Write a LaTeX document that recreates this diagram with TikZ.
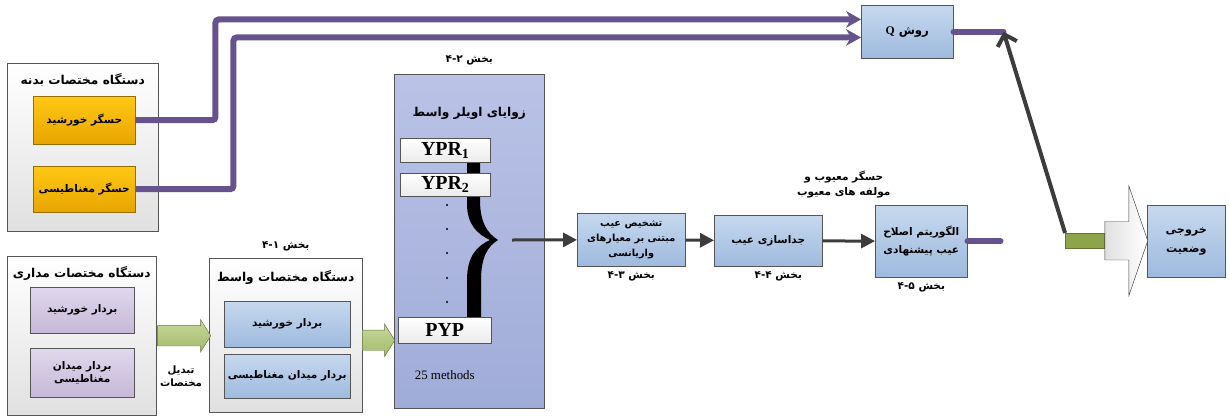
\documentclass[tikz,border=0pt]{standalone}
\usepackage{fontspec}
\usepackage{xcolor}
\usepackage{tikz}
\usetikzlibrary{arrows.meta,shapes.arrows,positioning}
\setmainfont{Liberation Serif}
\newfontfamily\fafont[Script=Arabic]{DejaVu Sans}
\TeXXeTstate=1
\newcommand{\fa}[1]{{\fafont\bfseries\beginR #1\endR}}
\newcommand{\secno}[1]{\fa{بخش #1}}

\definecolor{lnpurple}{RGB}{102,82,140}
\definecolor{ylwtop}{RGB}{255,200,20}
\definecolor{ylwbot}{RGB}{232,165,0}
\definecolor{ylwedge}{RGB}{150,110,0}
\definecolor{lilactop}{RGB}{224,216,236}
\definecolor{lilacbot}{RGB}{198,184,216}
\definecolor{bluetop}{RGB}{198,216,238}
\definecolor{bluebot}{RGB}{158,186,222}
\definecolor{eulertop}{RGB}{186,194,230}
\definecolor{eulerbot}{RGB}{160,172,216}
\definecolor{grntop}{RGB}{200,216,156}
\definecolor{grnbot}{RGB}{162,186,104}
\definecolor{grnbar}{RGB}{140,165,75}
\definecolor{darkln}{RGB}{60,60,60}
\definecolor{edge}{RGB}{85,85,85}

\tikzset{
  fa/.style={font=\fontsize{9}{13}\selectfont, align=center, inner sep=1pt},
  fatitle/.style={font=\fontsize{10.4}{12}\selectfont, align=center, inner sep=0pt},
  frame/.style={draw=edge, top color=white, bottom color=black!12},
  sensor/.style={draw=ylwedge, top color=ylwtop, bottom color=ylwbot, minimum width=3.06cm},
  lilacbox/.style={draw=edge, top color=lilactop, bottom color=lilacbot, minimum width=3.12cm},
  bluebox/.style={draw=edge, top color=bluetop, bottom color=bluebot},
  yprbox/.style={draw=edge, top color=white, bottom color=black!8, font=\fontsize{17}{17}\selectfont\bfseries},
  fatarrow/.style={single arrow, draw=grnbot!60!black, top color=grntop, bottom color=grnbot, inner xsep=0pt, inner ysep=0.3cm, minimum width=0.96cm, single arrow head extend=0.18cm, single arrow tip angle=116},
  purpleline/.style={draw=lnpurple, line width=0.18cm, rounded corners=0.1cm},
  grayarrow/.style={draw=darkln, line width=0.09cm, -{Triangle[length=0.42cm,width=0.42cm]}}
}

\begin{document}
\begin{tikzpicture}[x=0.03cm,y=-0.03cm]

\useasboundingbox (0,0) rectangle (1229,417);
\coordinate(O1) at (0,0);

% body frame with the two sensors
\node[below right=1.89cm and 0.21cm of O1, frame, minimum width=4.53cm, minimum height=5.04cm](body) {};
\node[below=0.32cm of body.north, fatitle](bodyt) {\fa{دستگاه مختصات بدنه}};
\node[below right=2.88cm and 0.99cm of O1, sensor, minimum height=1.44cm, fa](sun) {\fa{حسگر خورشید}};
\node[below right=4.98cm and 0.99cm of O1, sensor, minimum height=1.38cm, fa](mag) {\fa{حسگر مغناطیسی}};

% orbital frame
\node[below right=7.68cm and 0.21cm of O1, frame, minimum width=4.47cm, minimum height=4.77cm](orb) {};
\node[below=0.3cm of orb.north, fatitle](orbt) {\fa{دستگاه مختصات مداری}};
\node[below right=8.61cm and 0.9cm of O1, lilacbox, minimum height=1.38cm, fa](orbsun) {\fa{بردار خورشید}};
\node[below right=10.44cm and 0.9cm of O1, lilacbox, minimum height=1.47cm, fa, font=\fontsize{9}{11.5}\selectfont](orbmag) {\fa{بردار میدان}\\\fa{مغناطیسی}};

% intermediate frame
\node[below right=7.74cm and 6.27cm of O1, frame, minimum width=4.59cm, minimum height=4.62cm](mid) {};
\node[below=0.36cm of mid.north, fatitle](midt) {\fa{دستگاه مختصات واسط}};
\node[above=0.18cm of mid.north, fa](midl) {\secno{۴-۱}};
\node[below right=9.03cm and 6.72cm of O1, bluebox, minimum width=3.78cm, minimum height=1.38cm, fa](midsun) {\fa{بردار خورشید}};
\node[below right=10.62cm and 6.72cm of O1, bluebox, minimum width=3.78cm, minimum height=1.32cm, fa](midmag) {\fa{بردار میدان مغناطیسی}};

\node[right=0.03cm of orb, fatarrow, minimum height=1.59cm](conv) {};
\node[below=0.55cm of conv, fa, font=\fontsize{8.7}{11}\selectfont](convl) {\fa{تبدیل}\\\fa{مختصات}};

% Euler angles
\node[below right=2.22cm and 11.82cm of O1, draw=edge, top color=eulertop, bottom color=eulerbot, minimum width=4.5cm, minimum height=10.02cm](euler) {};
\node[below=1.0cm of euler.north, fatitle](eulert) {\fa{زوایای اویلر واسط}};
\node[above=0.22cm of euler.north, fa](eulerl) {\secno{۴-۲}};
\node[right=0cm of mid, yshift=-0.15cm, fatarrow, minimum height=0.96cm](toeuler) {};

\fill (467,160) -- (480,160) -- (480,200) .. controls (480,222) and (487,233) .. (498,240) .. controls (488,246) and (481,257) .. (481,280) -- (481,318) -- (467,318) -- (467,280) .. controls (467,256) and (477,246) .. (490,240) .. controls (477,234) and (467,224) .. (467,204) -- cycle;
\foreach \y in {205,229,253,278,302}
  \fill (447,\y) circle (1.1);

\node[below right=4.14cm and 12cm of O1, yprbox, minimum width=2.7cm, minimum height=0.72cm, inner sep=0pt](ypr1) {YPR$_{\mathbf{1}}$};
\node[below right=5.19cm and 12cm of O1, yprbox, minimum width=2.7cm, minimum height=0.69cm, inner sep=0pt](ypr2) {YPR$_{\mathbf{2}}$};
\node[below right=9.51cm and 11.94cm of O1, yprbox, minimum width=2.79cm, minimum height=0.78cm, inner sep=0pt](pyp) {PYP};
\node[below=0.7cm of pyp, font=\fontsize{11}{13}\selectfont](meth) {25 methods};
\coordinate (eout) at (512,240);

% fault chain
\node[below right=6.39cm and 17.31cm of O1, bluebox, minimum width=3.24cm, minimum height=1.59cm, fa, font=\fontsize{8.3}{13}\selectfont](fault) {\fa{تشخیص عیب}\\\fa{مبتنی بر معیارهای}\\\fa{واریانسی}};
\node[below=0.12cm of fault, fa](faultl) {\secno{۴-۳}};
\node[below right=6.45cm and 21.42cm of O1, bluebox, minimum width=3.24cm, minimum height=1.53cm, fa](iso) {\fa{جداسازی عیب}};
\node[below=0.12cm of iso, xshift=0.3cm, fa](isol) {\secno{۴-۴}};
\node[below right=6.15cm and 26.25cm of O1, bluebox, minimum width=2.76cm, minimum height=2.16cm, fa, font=\fontsize{9}{15}\selectfont](corr) {\fa{الگوریتم اصلاح}\\\fa{عیب پیشنهادی}};
\node[below=0.12cm of corr, fa](corrl) {\secno{۴-۵}};
\coordinate[right=0.99cm of corr.east] (corrout);

% Q method and output
\node[below right=0.15cm and 25.83cm of O1, bluebox, minimum width=2.76cm, minimum height=1.59cm, fa, font=\fontsize{10}{12}\selectfont](qm) {\fa{روش {\rmfamily Q}}};
\coordinate[right=1.5cm of qm.east] (qout);
\node[below right=6.99cm and 31.95cm of O1, draw=grnbar!70!black, fill=grnbar, minimum width=1.17cm, minimum height=0.45cm, inner sep=0pt](gbar) {};
\node[below right=6.15cm and 34.41cm of O1, bluebox, minimum width=2.34cm, minimum height=2.16cm, fa, font=\fontsize{9.5}{16}\selectfont](out) {\fa{خروجی}\\\fa{وضعیت}};
\node[right=0cm of gbar, single arrow, draw=darkln, thin, left color=black!12, right color=white, inner xsep=0pt, inner ysep=0.57cm, minimum height=1.29cm, minimum width=3.27cm, single arrow head extend=1.065cm, single arrow tip angle=142](outarrow) {};

\draw[purpleline, -{Stealth[length=0.45cm,width=0.5cm]}] (sun.east) -- ++(2.4cm,0) |- ([yshift=0.37cm]qm.west);
\draw[purpleline, -{Stealth[length=0.45cm,width=0.5cm]}] (mag.east) -- ++(2.94cm,0) |- ([yshift=-0.17cm]qm.west);
\draw[purpleline, line cap=round] (qm.east) -- (qout);
\draw[purpleline, line cap=round] (corr.east) -- (corrout);
\draw[draw=darkln, line width=0.12cm, -{Straight Barb[length=0.3cm,width=0.6cm]}] (gbar.north west) -- (qout);

\draw[grayarrow] (eout) -- (fault);
\draw[grayarrow] (fault) -- (iso);
\draw[grayarrow] (iso) -- node[above=1.2cm, xshift=-0.15cm, fa] {\fa{حسگر معیوب و}\\\fa{مولفه های معیوب}} (corr);
\end{tikzpicture}
\end{document}
